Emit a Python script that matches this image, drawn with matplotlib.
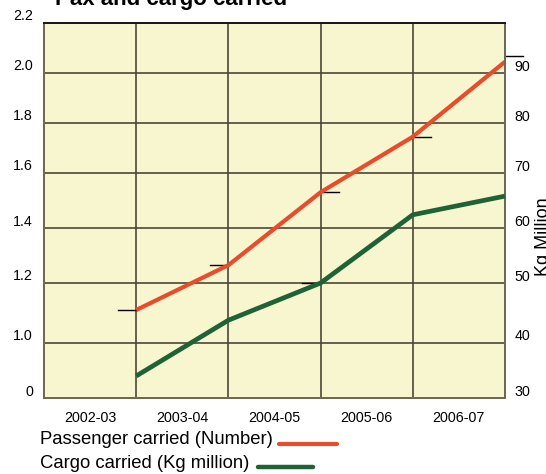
import numpy as np
import matplotlib
matplotlib.use("Agg")
import matplotlib.pyplot as plt
from matplotlib.lines import Line2D
from matplotlib.transforms import ScaledTranslation

plt.rcParams["font.family"] = ["Liberation Sans", "DejaVu Sans"]

# ---- data ----
years = ["2002-03", "2003-04", "2004-05", "2005-06", "2006-07"]
passengers = [1.11, 1.265, 1.53, 1.745, 2.045]      # left axis
cargo = [34.0, 43.8, 50.0, 62.4, 65.8]              # right axis, Kg million

left_ticks = [0, 1.0, 1.2, 1.4, 1.6, 1.8, 2.0, 2.2]
right_ticks = [30, 40, 50, 60, 70, 80, 90]
right_top = 100

# short reference dashes beside some of the points: (year index, value, side)
pax_dashes = [(0, 1.11, -1), (1, 1.265, -1), (2, 1.53, 1), (3, 1.745, 1), (4, 2.07, 1)]
cargo_dashes = [(2, 50.0, -1)]

# ---- layout ----
W, H = 546, 474
fig = plt.figure(figsize=(W / 100, H / 100), dpi=100)
ax_l, ax_r, ax_t, ax_b = 44, 505, 23, 398
ax = fig.add_axes([ax_l / W, 1 - ax_b / H, (ax_r - ax_l) / W, (ax_b - ax_t) / H])

# uneven row heights of the grid (pixels from the bottom)
grid_rows = [0, 55, 115, 170, 225, 275, 325, 375]

def make_scale(levels):
    lv = np.asarray(levels, float)
    gp = np.asarray(grid_rows, float)
    fwd = lambda v: np.interp(v, lv, gp)
    inv = lambda p: np.interp(p, gp, lv)
    return fwd, inv

bg = "#F8F6CF"
red = "#E94B2C"
green = "#1F6236"
gridc = "#4A4738"

ax.set_facecolor(bg)
ax.set_yscale("function", functions=make_scale(left_ticks))
ax.set_ylim(0, 2.2)
ax.set_xlim(-0.5, len(years) - 0.5)

ax2 = ax.twinx()
ax2.set_yscale("function", functions=make_scale(right_ticks + [right_top]))
ax2.set_ylim(right_ticks[0], right_top)

x = np.arange(len(years))
xp = x + 0.5  # points sit on the right edge of each year's column

ax.plot(xp, passengers, color=red, lw=3.0, solid_capstyle="butt", clip_on=False, zorder=5)
ax2.plot(xp, cargo, color=green, lw=3.4, solid_capstyle="butt", clip_on=False, zorder=5)

dash_len = 0.2
for i, v, s in pax_dashes:
    ax.plot([xp[i], xp[i] + s * dash_len], [v, v], color="black", lw=1.0,
            clip_on=False, zorder=4)
for i, v, s in cargo_dashes:
    ax2.plot([xp[i], xp[i] + s * dash_len], [v, v], color="black", lw=1.0,
             clip_on=False, zorder=4)

# grid
ax.set_yticks(left_ticks)
ax.set_yticklabels(["0" if t == 0 else f"{t:.1f}" for t in left_ticks])
ax.set_xticks(x)
ax.set_xticklabels(years)
ax.grid(False)
for t in left_ticks[1:-1]:
    ax.axhline(t, color=gridc, lw=1.2, zorder=1)
for b in x[:-1] + 0.5:
    ax.axvline(b, color=gridc, lw=1.2, zorder=1)

ax2.set_yticks(right_ticks)
ax2.set_yticklabels([str(t) for t in right_ticks])

ax.tick_params(axis="y", length=0, pad=8, labelsize=10.3)
ax.tick_params(axis="x", which="both", length=0, pad=9, labelsize=10.3)
ax2.tick_params(axis="y", length=0, pad=7, labelsize=10.3)

for a in (ax, ax2):
    for side, sp in a.spines.items():
        sp.set_color("#6E6955")
        sp.set_linewidth(1.4)
    a.spines["top"].set_color("#1a1a1a")

# labels sit slightly above their grid lines
up = ScaledTranslation(0, 0.08, fig.dpi_scale_trans)
for lab in ax.get_yticklabels() + ax2.get_yticklabels():
    lab.set_transform(lab.get_transform() + up)

# title (partly above the canvas)
fig.text(55 / W, 1 - 5 / H, "Pax and cargo carried", fontsize=16, fontweight="bold",
         ha="left", va="baseline")

# right axis name
fig.text(544 / W, 1 - 237 / H, "Kg Million", rotation=90, fontsize=13,
         ha="center", va="center")

# legend
fig.text(40 / W, 1 - 440 / H, "Passenger carried (Number)", fontsize=13.3,
         ha="left", va="center")
fig.add_artist(Line2D([279 / W, 337 / W], [1 - 444 / H, 1 - 444 / H],
                      transform=fig.transFigure, color=red, lw=3.0,
                      solid_capstyle="round"))
fig.text(40 / W, 1 - 463 / H, "Cargo carried (Kg million)", fontsize=13.3,
         ha="left", va="center")
fig.add_artist(Line2D([258 / W, 313 / W], [1 - 467 / H, 1 - 467 / H],
                      transform=fig.transFigure, color=green, lw=3.2,
                      solid_capstyle="round"))

fig.savefig("out.png", dpi=100, facecolor="white")
